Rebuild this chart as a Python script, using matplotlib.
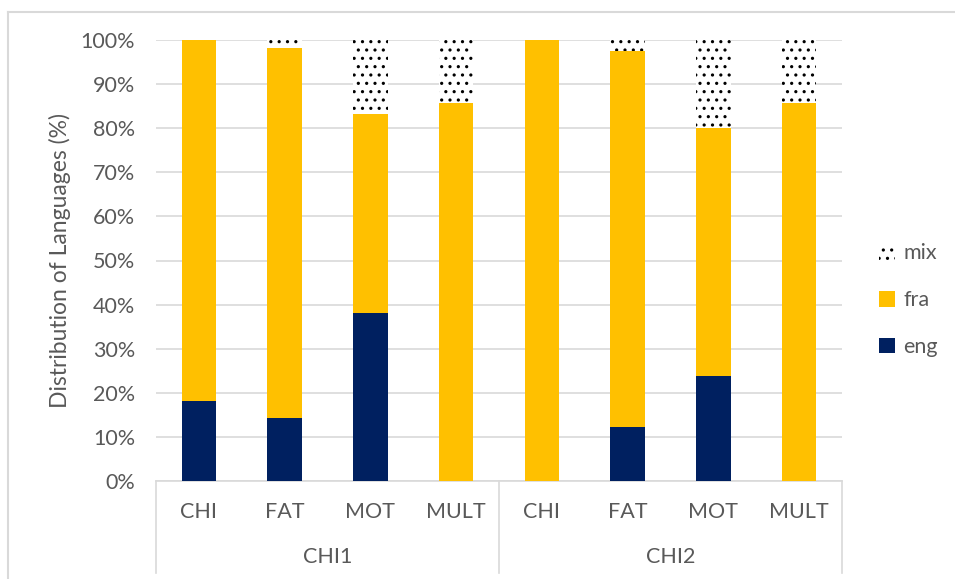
import matplotlib
matplotlib.use("Agg")
import matplotlib.pyplot as plt
from matplotlib.lines import Line2D
import numpy as np

plt.rcParams['font.family'] = ['Lato', 'DejaVu Sans']
plt.rcParams['hatch.linewidth'] = 1.1

speakers = ["CHI", "FAT", "MOT", "MULT", "CHI", "FAT", "MOT", "MULT"]
groups = ["CHI1", "CHI2"]
eng = [18.2, 14.3, 38.1, 0.0, 0.0, 12.2, 23.8, 0.0]
fra = [81.8, 83.9, 45.2, 85.7, 100.0, 85.4, 56.2, 85.7]
mix = [0.0, 1.8, 16.7, 14.3, 0.0, 2.4, 20.0, 14.3]
yticks = [0, 10, 20, 30, 40, 50, 60, 70, 80, 90, 100]

navy = "#002060"
gold = "#FFC000"
txt = "#595959"
grid = "#D9D9D9"
fs = 15.5

fig = plt.figure(figsize=(9.55, 5.79), dpi=100)
# outer chart frame
fig.add_artist(Line2D([8/955, 1.0], [1 - 12/579, 1 - 12/579], color=grid, lw=1.5, transform=fig.transFigure))
fig.add_artist(Line2D([8/955, 8/955], [0, 1 - 12/579], color=grid, lw=1.5, transform=fig.transFigure))

ax = fig.add_axes([156/955, 98/579, 686/955, 441/579])

x = np.arange(len(speakers))
eng_a = np.array(eng); fra_a = np.array(fra); mix_a = np.array(mix)
w = 0.4
b1 = ax.bar(x, eng_a, w, color=navy, label="eng", zorder=3)
b2 = ax.bar(x, fra_a, w, bottom=eng_a, color=gold, label="fra", zorder=3)
b3 = ax.bar(x, mix_a, w, bottom=eng_a + fra_a, facecolor="white", edgecolor="black",
            hatch="..", linewidth=0, label="mix", zorder=3)

ax.set_xlim(-0.5, len(speakers) - 0.5)
ax.set_ylim(0, 100)
ax.set_yticks(yticks)
ax.set_yticklabels([f"{t}%" for t in yticks], color=txt, fontsize=fs)
ax.yaxis.grid(True, color=grid, linewidth=1.2, zorder=0)
ax.tick_params(axis='y', length=0, pad=15)
ax.set_xticks([])
for s in ["left", "right", "top"]:
    ax.spines[s].set_visible(False)
ax.spines["bottom"].set_color(grid)
ax.spines["bottom"].set_linewidth(1.2)
ax.set_ylabel("Distribution of Languages (%)", color=txt, fontsize=16.5, labelpad=7)

trans = ax.get_xaxis_transform()
for i, s in enumerate(speakers):
    ax.text(i, -0.07, s, transform=trans, ha="center", va="center", color=txt, fontsize=fs)
for g, name in enumerate(groups):
    ax.text(g * 4 + 1.5, -0.172, name, transform=trans, ha="center", va="center", color=txt, fontsize=fs)
for xb in [-0.5, 3.5, 7.5]:
    ax.plot([xb, xb], [0, -0.208], transform=trans, color=grid, linewidth=1.2, clip_on=False)

leg = ax.legend(handles=[b3, b2, b1], labels=["mix", "fra", "eng"], loc="center left",
                bbox_to_anchor=(1.025, 0.41), frameon=False, fontsize=fs,
                labelspacing=1.25, handlelength=0.75, handleheight=0.75, handletextpad=0.4)
for t in leg.get_texts():
    t.set_color(txt)

fig.savefig("out.png", dpi=100)
